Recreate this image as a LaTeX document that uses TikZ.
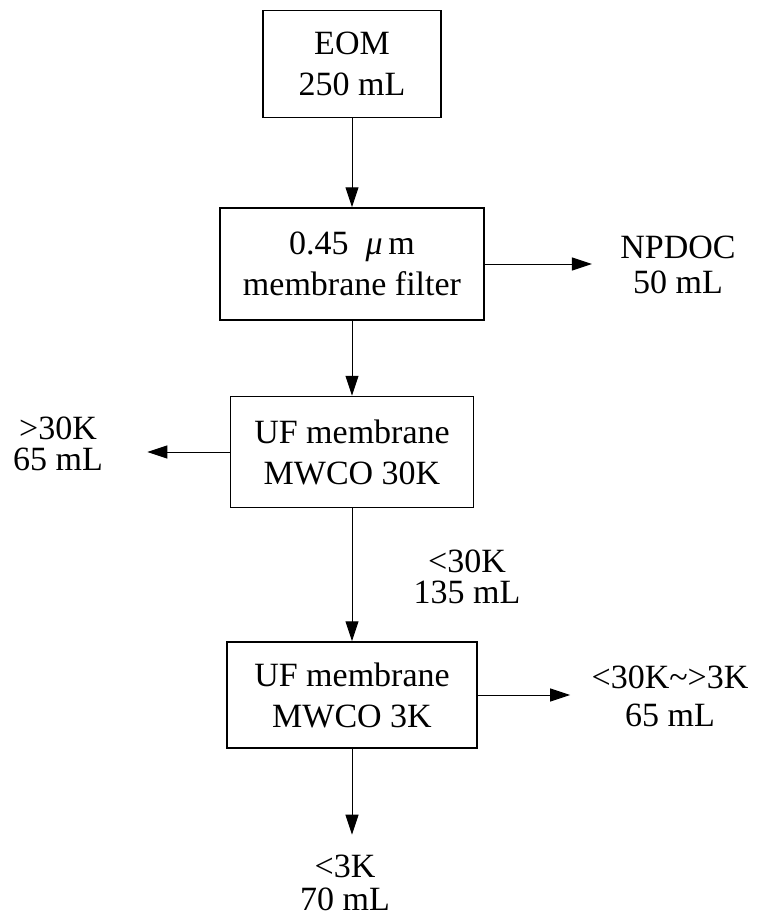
\documentclass[tikz,border=0pt]{standalone}
\usepackage{fontspec}
\setmainfont{Liberation Serif}
\usetikzlibrary{arrows.meta,positioning}
\tikzset{
  procbox/.style={rectangle, draw=black, line width=0.75pt, align=center,
                  inner sep=0pt, font=\fontsize{17}{20.5}\selectfont},
  flowlabel/.style={align=center, inner sep=0pt, font=\fontsize{17}{17.5}\selectfont},
  arrow/.style={-{Triangle[length=10pt,width=6.5pt]}, line width=0.5pt},
}

\begin{document}
\begin{tikzpicture}[x=0.5pt, y=-0.5pt]
    \useasboundingbox (0,0) rectangle (767,920);

    % Main column: sample and separation steps
    \node[procbox, minimum width=89pt, minimum height=53.5pt] (eom) at (352,64) {EOM\\250 mL};
    \node[procbox, minimum width=132pt, minimum height=56pt] (filter) at (352,264) {0.45~~\textit{μ}\,m\\membrane filter};
    \node[procbox, minimum width=121.5pt, minimum height=55.5pt] (uf_30k) at (352,452) {UF membrane\\MWCO 30K};
    \node[procbox, minimum width=125pt, minimum height=53pt] (uf_3k) at (352,695) {UF membrane\\MWCO 3K};

    % Fractions drawn off at each step
    \node[flowlabel] (npdoc) at (678,265) {NPDOC\\50 mL};
    \node[flowlabel, font=\fontsize{17}{15.5}\selectfont] (above_30k) at (58,444) {>30K\\65 mL};
    \node[flowlabel, font=\fontsize{17}{15.5}\selectfont] (below_30k) at (467,577) {<30K\\135 mL};
    \node[flowlabel, font=\fontsize{17}{19}\selectfont] (mid_3k) at (670,696) {<30K\textasciitilde>3K\\65 mL};
    \node[flowlabel, font=\fontsize{17}{16.5}\selectfont] (below_3k) at (345,883) {<3K\\70 mL};

    % Main flow
    \draw[arrow] (eom) -- (filter);
    \draw[arrow] (filter) -- (uf_30k);
    \draw[arrow] (uf_30k) -- (uf_3k);

    % Side streams
    \draw[arrow, shorten >=14pt] (filter.east) -- (npdoc.west |- filter.east);
    \draw[arrow, shorten >=22pt] (uf_30k.west) -- (above_30k.east |- uf_30k.west);
    \draw[arrow, shorten >=10.5pt] (uf_3k.east) -- (mid_3k.west |- uf_3k.east);
    \draw[arrow, shorten >=10pt] (uf_3k.south) -- (uf_3k.south |- below_3k.north);
\end{tikzpicture}
\end{document}
